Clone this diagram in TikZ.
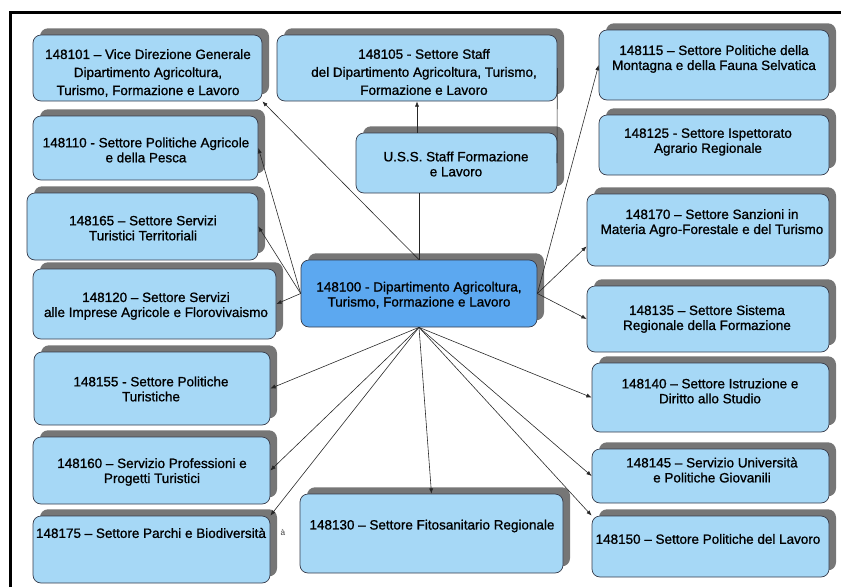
\documentclass[tikz,border=0pt]{standalone}
\usepackage{fontspec}
\setmainfont{Liberation Sans}
\newfontfamily\boxfont[FakeBold=1,Ligatures=TeX]{Liberation Sans}
\usetikzlibrary{shadows,fit,calc,arrows.meta}
\definecolor{boxblue}{RGB}{166,216,246}
\definecolor{depblue}{RGB}{92,168,240}
\definecolor{boxline}{RGB}{55,60,75}
\definecolor{shadowgray}{RGB}{118,118,118}
\tikzset{
  unit/.style={draw=boxline, line width=0.6pt, fill=boxblue, rounded corners=0.24cm, inner sep=0pt,
    general shadow={fill=shadowgray, shadow xshift=0.21cm, shadow yshift=0.2cm}},
  dept/.style={unit, fill=depblue},
  txt/.style={align=center, inner sep=0pt, font=\boxfont\fontsize{11.5}{12.8}\selectfont},
  txtwide/.style={txt, font=\boxfont\fontsize{11.5}{15.4}\selectfont},
  arr/.style={-{Latex[length=4.5pt,width=3.5pt]}, line width=0.5pt, draw=black!85},
  link/.style={line width=0.5pt, draw=black!85}
}
\begin{document}
\begin{tikzpicture}[x=0.03cm, y=-0.03cm]
      \useasboundingbox (0,0) rectangle (841,587);
      \draw[line width=0.09cm] (10,587) -- (10,12) -- (841,12);   % frame
      %
      % left column
      \node[unit, fit={(33,35) (262,101)}] (u101) {};
      \node[txtwide] (t101) at (148,73) {148101 – Vice Direzione Generale\\Dipartimento Agricoltura,\\Turismo, Formazione e Lavoro};
      \node[unit, fit={(33,116) (258,180)}] (u110) {};
      \node[txt] (t110) at (146,150) {148110 - Settore Politiche Agricole\\e della Pesca};
      \node[unit, fit={(27,193) (258,260)}] (u165) {};
      \node[txt] (t165) at (143,228) {148165 – Settore Servizi\\Turistici Territoriali};
      \node[unit, fit={(33,269) (276,339)}] (u120) {};
      \node[txt] (t120) at (156,306) {148120 – Settore Servizi\\alle Imprese Agricole e Florovivaismo};
      \node[unit, fit={(34,352) (270,425)}] (u155) {};
      \node[txt] (t155) at (151,389) {148155 - Settore Politiche\\Turistiche};
      \node[unit, fit={(33,437) (270,504)}] (u160) {};
      \node[txt] (t160) at (152,472) {148160 – Servizio Professioni e\\Progetti Turistici};
      \node[unit, fit={(33,516) (270,583)}] (u175) {};
      \node[txt] (t175) at (151,533) {148175 – Settore Parchi e Biodiversità};
      \node[font=\fontsize{7}{7}\selectfont, text=black!75, inner sep=0pt] (acc) at (283,533) {à};
      %
      % middle column
      \node[unit, fit={(277,35) (557,101)}] (staff) {};
      \node[txtwide] (tstaff) at (424,72) {148105 - Settore Staff\\del Dipartimento Agricoltura, Turismo,\\Formazione e Lavoro};
      \node[unit, fit={(356,133) (557,193)}] (uss) {};
      \node[txt] (tuss) at (456,164) {U.S.S. Staff Formazione\\e Lavoro};
      \node[dept, fit={(301,260) (537,327)}] (dip) {};
      \node[txt] (tdip) at (419,295) {148100 - Dipartimento Agricoltura,\\Turismo, Formazione e Lavoro};
      \node[unit, fit={(300,494) (563,573)}] (u130) {};
      \node[txt] (t130) at (432,526) {148130 – Settore Fitosanitario Regionale};
      %
      % right column
      \node[unit, fit={(599,30) (829,100)}] (u115) {};
      \node[txt] (t115) at (714,59) {148115 – Settore Politiche della\\Montagna e della Fauna Selvatica};
      \node[unit, fit={(599,115) (829,175)}] (u125) {};
      \node[txt] (t125) at (708,142) {148125 - Settore Ispettorato\\Agrario Regionale};
      \node[unit, fit={(587,194) (829,266)}] (u170) {};
      \node[txt] (t170) at (712,223) {148170 – Settore Sanzioni in\\Materia Agro-Forestale e del Turismo};
      \node[unit, fit={(587,286) (829,352)}] (u135) {};
      \node[txt] (t135) at (707,319) {148135 – Settore Sistema\\Regionale della Formazione};
      \node[unit, fit={(592,363) (829,432)}] (u140) {};
      \node[txt] (t140) at (710,391) {148140 – Settore Istruzione e\\Diritto allo Studio};
      \node[unit, fit={(592,449) (829,503)}] (u145) {};
      \node[txt] (t145) at (712,470) {148145 – Servizio Università\\e Politiche Giovanili};
      \node[unit, fit={(592,516) (829,577)}] (u150) {};
      \node[txt] (t150) at (708,539) {148150 – Settore Politiche del Lavoro};
      %
      % connectors
      \coordinate (ussr) at (557,163);
      \draw[link] (dip.north) -- (dip.north |- uss.south);
      \draw[arr] (staff.south |- uss.north) -- (staff.south);
      \draw[link] (staff.east) -- (ussr);
      \draw[arr] (dip.north) -- (u101.south east);
      \draw[arr] (dip.west) -- (u110.east);
      \draw[arr] (dip.west) -- (u165.east);
      \draw[arr] (dip.west) -- (u120.east);
      \draw[arr] (dip.south) -- (u155.east);
      \draw[arr] (dip.south) -- (u160.east);
      \draw[arr] (dip.south) -- (u175.north east);
      \draw[arr] (dip.south) -- (u130.north);
      \draw[arr] (dip.south) -- (u140.west);
      \draw[arr] (dip.south) -- (u145.west);
      \draw[arr] (dip.south) -- (u150.north west);
      \draw[arr] (dip.east) -- (u115.west);
      \draw[arr] (dip.east) -- ($(u170.west)!0.45!(u170.south west)$);
      \draw[arr] (dip.east) -- (u135.west);
      %
    \end{tikzpicture}
\end{document}
